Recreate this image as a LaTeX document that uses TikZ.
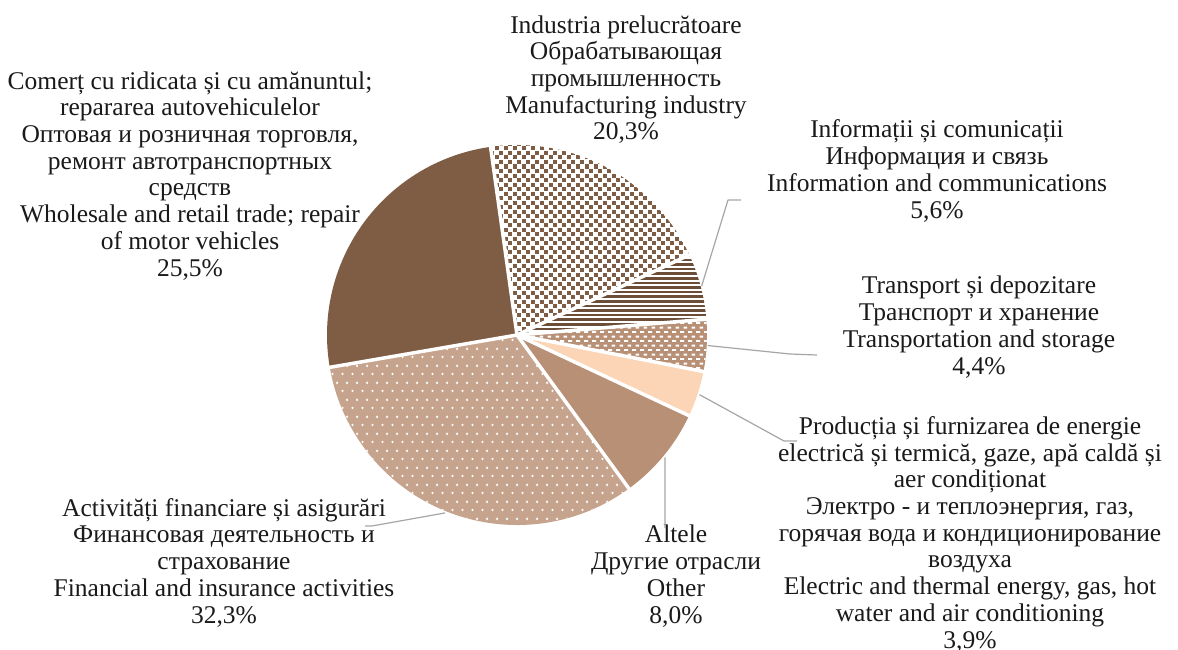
\documentclass[tikz,border=0pt]{standalone}
\usepackage{fontspec}
\setmainfont{Liberation Serif}
\usetikzlibrary{patterns}
\definecolor{dbrown}{RGB}{127,92,68}
\definecolor{ddbrown}{RGB}{108,78,56}
\definecolor{lbrown}{RGB}{184,144,118}
\definecolor{peach}{RGB}{251,213,181}
\definecolor{finfill}{RGB}{198,163,141}
\definecolor{leader}{RGB}{166,166,166}
\definecolor{txt}{RGB}{26,26,26}
\pgfdeclarepatternformonly{dashx}{\pgfpointorigin}{\pgfqpoint{8pt}{9.4pt}}{\pgfqpoint{8pt}{9.4pt}}{%
  \pgfpathrectangle{\pgfqpoint{0pt}{0pt}}{\pgfqpoint{4.5pt}{2pt}}%
  \pgfpathrectangle{\pgfqpoint{4pt}{4.7pt}}{\pgfqpoint{4pt}{2pt}}%
  \pgfusepath{fill}}
\pgfdeclarepatternformonly{crossx}{\pgfpointorigin}{\pgfqpoint{10pt}{17pt}}{\pgfqpoint{10pt}{17pt}}{%
  \pgfpathrectangle{\pgfqpoint{1.5pt}{3.75pt}}{\pgfqpoint{2.5pt}{1pt}}%
  \pgfpathrectangle{\pgfqpoint{2.25pt}{3pt}}{\pgfqpoint{1pt}{2.5pt}}%
  \pgfpathrectangle{\pgfqpoint{6.5pt}{12.25pt}}{\pgfqpoint{2.5pt}{1pt}}%
  \pgfpathrectangle{\pgfqpoint{7.25pt}{11.5pt}}{\pgfqpoint{1pt}{2.5pt}}%
  \pgfusepath{fill}}
\begin{document}
\lineskiplimit=-30pt
\begin{tikzpicture}[x=1pt,y=-1pt,
  lbl/.style={align=center, anchor=base, inner sep=0pt, text=txt,
    font=\fontsize{25.5}{26.7}\selectfont},
  leaderline/.style={draw=leader, line width=1.2pt, line join=round},
  sep/.style={draw=white, line width=3.5pt, line cap=round},
  stripe/.style={draw=ddbrown, line width=2.5pt},
  sqr/.style={fill=dbrown}]
\useasboundingbox[fill=white] (0,0) rectangle (1178,650);

\begin{scope}[shift={(517,335)}, x=1pt, y=1pt]
  % Manufacturing (staggered squares)
  \begin{scope}
    \clip (0,0) -- (98:190) arc[start angle=98, end angle=24.92, radius=190] -- cycle;
    \foreach \r in {0,...,43}
      \foreach \c in {-4,...,20}
        \fill[sqr] ({\c*9+mod(\r,2)*4.5},{\r*4.5}) rectangle ++(4,4);
  \end{scope}
  % Information (horizontal stripes)
  \begin{scope}
    \clip (0,0) -- (24.92:190) arc[start angle=24.92, end angle=4.76, radius=190] -- cycle;
    \foreach \yy in {1.5,6.1,...,90}
      \draw[stripe] (0,\yy) -- (200,\yy);
  \end{scope}
  % Transport
  \path[fill=lbrown, postaction={pattern=dashx, pattern color=white}]
    (0,0) -- (4.76:190) arc[start angle=4.76, end angle=-11.08, radius=190] -- cycle;
  % Energy
  \path[fill=peach]
    (0,0) -- (-11.08:190) arc[start angle=-11.08, end angle=-25.12, radius=190] -- cycle;
  % Other
  \path[fill=lbrown]
    (0,0) -- (-25.12:190) arc[start angle=-25.12, end angle=-53.92, radius=190] -- cycle;
  % Financial
  \path[fill=finfill, postaction={pattern=crossx, pattern color=white}]
    (0,0) -- (-53.92:190) arc[start angle=-53.92, end angle=-170.2, radius=190] -- cycle;
  % Trade
  \path[fill=dbrown]
    (0,0) -- (-170.2:190) arc[start angle=-170.2, end angle=-262, radius=190] -- cycle;
  % separators
  \foreach \a in {98,24.92,4.76,-11.08,-25.12,-53.92,-170.2}
    \draw[sep] (0,0) -- (\a:193);
  % leader anchors on slices
  \coordinate (pinfo) at (14.84:191);
  \coordinate (ptrans) at (-3.16:191);
  \coordinate (penergy) at (-18.1:192);
  \coordinate (pother) at (-39.6:192);
  \coordinate (pfin) at (-112.06:192);
\end{scope}

% labels (anchor = baseline of the last line)
\node[lbl] (lman) at (626,140) {Industria prelucrătoare\\Обрабатывающая\\промышленность\\Manufacturing industry\\20,3\%};
\node[lbl] (ltrade) at (190,276) {Comerț cu ridicata și cu amănuntul;\\repararea autovehiculelor\\Оптовая и розничная торговля,\\ремонт автотранспортных\\средств\\Wholesale and retail trade; repair\\of motor vehicles\\25,5\%};
\node[lbl] (linfo) at (937,218) {Informații și comunicații\\Информация и связь\\Information and communications\\5,6\%};
\node[lbl] (ltrans) at (979,374) {Transport și depozitare\\Транспорт и хранение\\Transportation and storage\\4,4\%};
\node[lbl] (lenergy) at (970,648) {Producția și furnizarea de energie\\electrică și termică, gaze, apă caldă și\\aer condiționat\\Электро - и теплоэнергия, газ,\\горячая вода и кондиционирование\\воздуха\\Electric and thermal energy, gas, hot\\water and air conditioning\\3,9\%};
\node[lbl] (lfin) at (224,623) {Activități financiare și asigurări\\Финансовая деятельность и\\страхование\\Financial and insurance activities\\32,3\%};
\node[lbl] (lother) at (676,623) {Altele\\Другие отрасли\\Other\\8,0\%};

% leader lines
\coordinate (kinfo) at (728,200);
\coordinate (einfo) at (741,200);
\coordinate (ktrans) at (790,354);
\coordinate (etrans) at (817,355);
\coordinate (kenergy) at (784,441);
\coordinate (eenergy) at (797,441);
\coordinate (eother) at (665,528);
\coordinate (kfin) at (372,526);
\coordinate (efin) at (365,526);
\draw[leaderline] (pinfo) -- (kinfo) -- (einfo);
\draw[leaderline] (ptrans) -- (ktrans) -- (etrans);
\draw[leaderline] (penergy) -- (kenergy) -- (eenergy);
\draw[leaderline] (pother) -- (eother);
\draw[leaderline] (pfin) -- (kfin) -- (efin);
\end{tikzpicture}
\end{document}
